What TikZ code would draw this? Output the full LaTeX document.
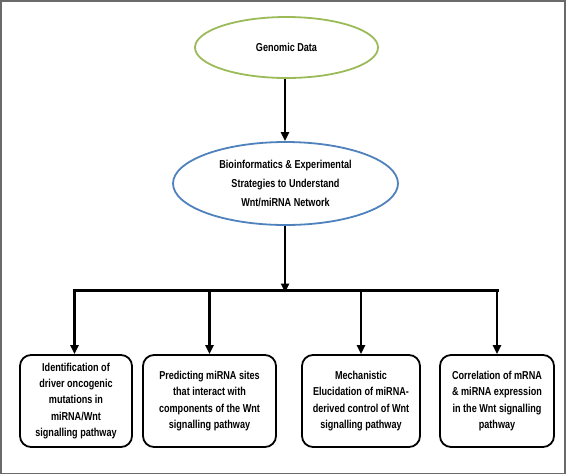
\documentclass[tikz,border=0pt]{standalone}
\usepackage{fontspec}
\setmainfont{Liberation Sans}[FakeStretch=0.79]
\usetikzlibrary{shapes.geometric,arrows.meta}
\definecolor{olivegreen}{HTML}{9BBB59}
\definecolor{officeblue}{HTML}{4F81BD}
\definecolor{framegray}{HTML}{6A6A6A}
\begin{document}
\begin{tikzpicture}[x=1pt,y=-1pt,
  every node/.style={font=\fontsize{11.5}{16.3}\selectfont\bfseries, align=center, inner sep=0pt},
  oval/.style={ellipse, draw, line width=1.8pt},
  stepbox/.style={draw=black, line width=1.8pt, rounded corners=11pt, minimum height=92pt},
  arr/.style={line width=2.6pt, -{Triangle[length=9pt,width=8pt]}},
  barline/.style={line width=3pt}
]
\useasboundingbox (0,0) rectangle (567,475);
\draw[framegray, line width=1.6pt] (1,1) rectangle (565,473.5);

\node[oval, draw=olivegreen, minimum width=183pt, minimum height=61pt] (gen) at (286.5,47.5) {Genomic Data};
\node[oval, draw=officeblue, minimum width=225pt, minimum height=83pt,
      font=\fontsize{11.5}{19}\selectfont\bfseries] (bio) at (285.5,183.5)
  {Bioinformatics \& Experimental\\Strategies to Understand\\Wnt/miRNA Network};

\node[stepbox, minimum width=112pt] (b1) at (76,401)
  {Identification of\\driver oncogenic\\mutations in\\miRNA/Wnt\\signalling pathway};
\node[stepbox, minimum width=133pt] (b2) at (209.5,401)
  {Predicting miRNA sites\\that interact with\\components of the Wnt\\signalling pathway};
\node[stepbox, minimum width=118pt] (b3) at (361,401)
  {Mechanistic\\Elucidation of miRNA-\\derived control of Wnt\\signalling pathway};
\node[stepbox, minimum width=114pt] (b4) at (497,401)
  {Correlation of mRNA\\\& miRNA expression\\in the Wnt signalling\\pathway};

\coordinate (barL) at (74.5,290.5);
\coordinate (barR) at (497,290.5);
\coordinate (barM) at (285,290.5);

\draw[arr] (gen.south -| 285,0) -- (bio.north -| 285,0);
\draw[arr] (bio.south -| barM) -- ([yshift=-2pt]barM);
\draw[barline] ([xshift=-1.5pt]barL) -- ([xshift=1.5pt]barR);
\draw[arr] (barL) -- (barL |- b1.north);
\draw[arr] (b2.north |- barL) -- (b2.north);
\draw[arr] (b3.north |- barL) -- (b3.north);
\draw[arr] (barR) -- (barR |- b4.north);
\end{tikzpicture}
\end{document}
